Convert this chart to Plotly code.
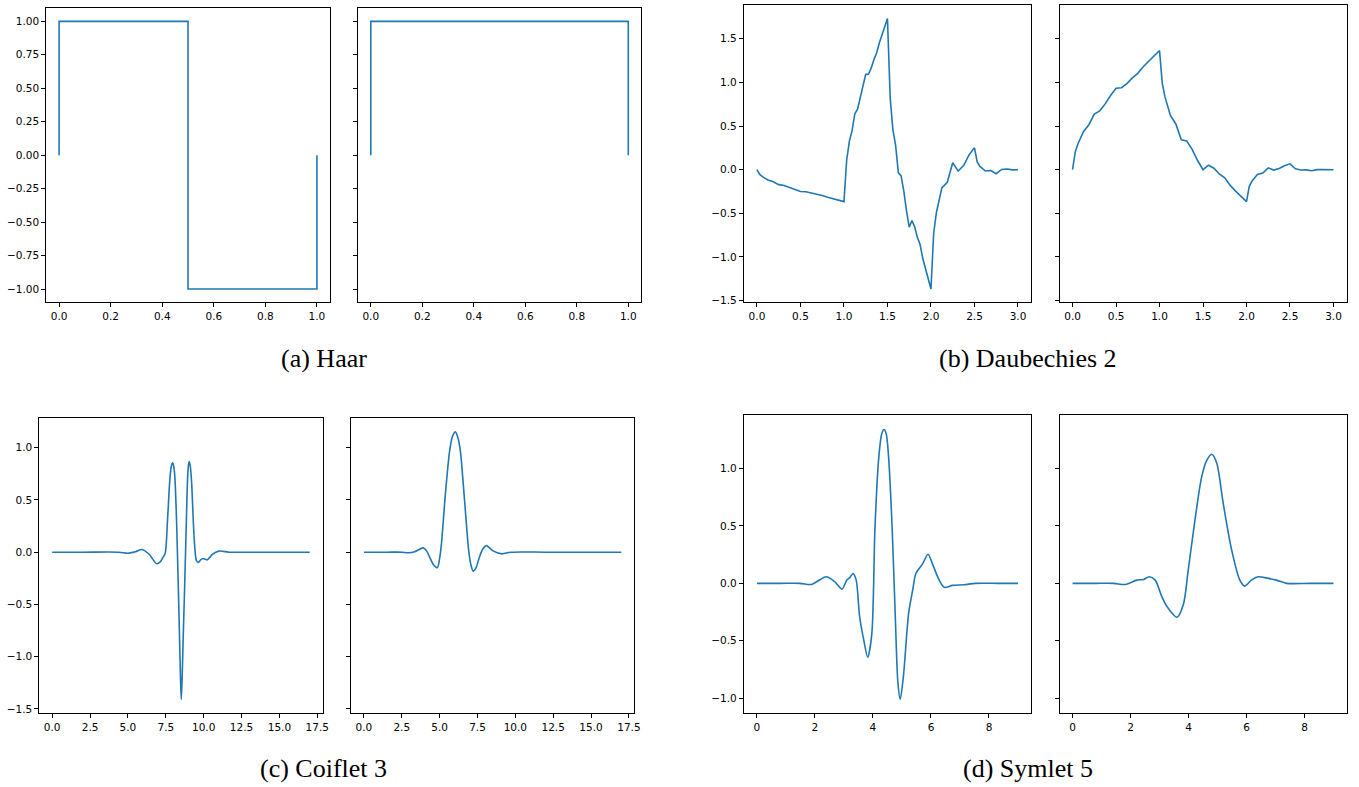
import plotly.graph_objects as go

# ---------------- data ----------------
haar_psi_x = [0, 0, 0.5, 0.5, 1, 1]
haar_psi_y = [0, 1, 1, -1, -1, 0]
haar_phi_x = [0, 0, 1, 1]
haar_phi_y = [0, 1, 1, 0]

db2_psi_x = [0, 0.015625, 0.03125, 0.0625, 0.125, 0.1875, 0.25, 0.3125, 0.375, 0.4375, 0.5, 0.5625,
             0.625, 0.6875, 0.75, 0.8125, 0.875, 0.9375, 1.0, 1.03125, 1.0625, 1.09375, 1.125, 1.15625,
             1.1875, 1.21875, 1.25, 1.28125, 1.3125, 1.34375, 1.375, 1.40625, 1.4375, 1.46875, 1.5,
             1.53125, 1.5625, 1.59375, 1.625, 1.65625, 1.6875, 1.71875, 1.75, 1.78125, 1.8125, 1.84375,
             1.875, 1.90625, 1.9375, 1.96875, 2.0, 2.03125, 2.0625, 2.125, 2.1875, 2.25, 2.3125, 2.375,
             2.4375, 2.5, 2.53125, 2.5625, 2.625, 2.6875, 2.75, 2.8125, 2.875, 2.9375, 3.0]
db2_psi_y = [0, -0.037, -0.054, -0.080, -0.117, -0.138, -0.171, -0.181, -0.202, -0.228, -0.250, -0.252,
             -0.265, -0.282, -0.296, -0.316, -0.333, -0.349, -0.366, 0.111, 0.328, 0.450, 0.641, 0.693,
             0.816, 0.964, 1.092, 1.093, 1.163, 1.259, 1.337, 1.452, 1.549, 1.639, 1.732,
             0.825, 0.455, 0.280, -0.037, -0.069, -0.243, -0.471, -0.659, -0.584, -0.653, -0.775,
             -0.858, -1.018, -1.141, -1.249, -1.366, -0.725, -0.490, -0.209, -0.144, 0.079, -0.016, 0.048,
             0.170, 0.250, 0.090, 0.038, -0.015, -0.009, -0.046, 0.003, 0.008, -0.002, 0]

db2_phi_x = [0, 0.015625, 0.03125, 0.0625, 0.125, 0.1875, 0.25, 0.3125, 0.375, 0.4375, 0.5, 0.5625,
             0.625, 0.6875, 0.75, 0.8125, 0.875, 0.9375, 1.0, 1.03125, 1.0625, 1.125, 1.1875, 1.25,
             1.3125, 1.375, 1.4375, 1.5, 1.5625, 1.625, 1.6875, 1.75, 1.8125, 1.875, 1.9375, 2.0,
             2.03125, 2.0625, 2.125, 2.1875, 2.25, 2.3125, 2.375, 2.4375, 2.5, 2.5625, 2.625, 2.6875,
             2.75, 2.8125, 2.875, 2.9375, 3.0]
db2_phi_y = [0, 0.139, 0.203, 0.297, 0.435, 0.515, 0.637, 0.674, 0.754, 0.850, 0.933, 0.939,
             0.987, 1.051, 1.104, 1.179, 1.244, 1.304, 1.366, 0.991, 0.834, 0.621, 0.524, 0.342,
             0.330, 0.233, 0.105, 0.0, 0.051, 0.017, -0.049, -0.092, -0.180, -0.246, -0.303, -0.366,
             -0.194, -0.131, -0.056, -0.039, 0.021, -0.004, 0.013, 0.046, 0.067, 0.010, -0.004, -0.002,
             -0.012, 0.001, 0.002, -0.0004, 0]

coif3_psi_x = [0, 2.0, 4.4, 5.0, 5.5, 5.94, 6.4, 6.9, 7.15, 7.29, 7.45, 7.61, 7.76, 7.86, 7.95, 8.03,
               8.10, 8.2, 8.27, 8.38, 8.46, 8.52, 8.58, 8.65, 8.74, 8.83, 8.94, 9.0, 9.05, 9.12, 9.2,
               9.37, 9.52, 9.65, 9.8, 9.95, 10.1, 10.24, 10.4, 10.57, 11.0, 11.66, 12.5, 15.0, 17.0]
coif3_psi_y = [0, 0, 0, -0.01, 0.005, 0.026, -0.02, -0.111, -0.09, -0.054, -0.016, 0.30, 0.68, 0.82,
               0.857, 0.82, 0.714, 0.35, -0.016, -0.65, -1.15, -1.41, -1.2, -0.81, -0.35, 0.143, 0.714,
               0.84, 0.867, 0.82, 0.68, 0.143, -0.079, -0.098, -0.073, -0.06, -0.067, -0.073, -0.05,
               -0.022, 0.01, 0.0, 0.0, 0, 0]

coif3_phi_x = [0, 1.5, 2.5, 2.93, 3.36, 3.65, 3.91, 4.15, 4.34, 4.6, 4.85, 5.0, 5.12, 5.38, 5.66, 5.85,
               6.04, 6.2, 6.37, 6.65, 6.92, 7.08, 7.22, 7.4, 7.63, 7.85, 8.1, 8.3, 8.56, 9.1, 9.7, 12.0,
               14.5, 17.0]
coif3_phi_y = [0, 0, 0, -0.005, 0.005, 0.025, 0.041, 0.01, -0.048, -0.12, -0.149, -0.06, 0.079, 0.556,
               0.968, 1.11, 1.152, 1.10, 0.968, 0.49, 0.016, -0.13, -0.181, -0.15, -0.048, 0.03, 0.063,
               0.04, 0.01, -0.016, 0.0, 0.0, 0, 0]

sym5_psi_x = [0, 0.8, 1.48, 1.88, 2.1, 2.39, 2.68, 2.93, 3.1, 3.2, 3.31, 3.42, 3.54, 3.68, 3.82, 3.96,
              4.07, 4.2, 4.3, 4.38, 4.46, 4.54, 4.66, 4.77, 4.86, 4.94, 5.05, 5.23, 5.37, 5.48, 5.71,
              5.9, 6.05, 6.28, 6.46, 6.74, 7.14, 7.54, 8.3, 9.0]
sym5_psi_y = [0, 0, 0, -0.01, 0.02, 0.057, 0.014, -0.05, 0.03, 0.05, 0.086, 0.03, -0.289, -0.49,
              -0.644, -0.44, 0.49, 1.096, 1.30, 1.341, 1.30, 1.096, 0.49, -0.289, -0.866, -1.01, -0.81,
              -0.26, -0.058, 0.086, 0.17, 0.253, 0.17, 0.03, -0.035, -0.018, -0.012, 0, 0, 0]

sym5_phi_x = [0, 0.8, 1.42, 1.82, 2.22, 2.45, 2.64, 2.85, 3.08, 3.25, 3.6, 3.82, 3.99, 4.22, 4.45,
              4.62, 4.8, 4.97, 5.2, 5.49, 5.77, 5.94, 6.17, 6.4, 6.75, 7.03, 7.38, 8.2, 9.0]
sym5_phi_y = [0, 0, 0, -0.01, 0.028, 0.034, 0.057, 0.028, -0.116, -0.2, -0.295, -0.186, 0.115, 0.548,
              0.923, 1.067, 1.125, 1.05, 0.692, 0.288, 0.028, -0.024, 0.028, 0.057, 0.043, 0.028, 0,
              0, 0]

captions = ["(a) Haar", "(b) Daubechies 2", "(c) Coiflet 3", "(d) Symlet 5"]

# ---------------- figure ----------------
W, H = 1359, 787
LINE = "#1f77b4"

def px_x(a, b):
    return [a / W, b / W]

def px_y(top, bottom):
    return [1 - bottom / H, 1 - top / H]

# (series_x, series_y, shape, xdomain, ydomain, xrange, yrange, xdtick, xfmt, ydtick, yfmt, showylabels)
panels = [
    (haar_psi_x, haar_psi_y, "linear", px_x(46.4, 331.3), px_y(8, 304), [-0.05, 1.05], [-1.1, 1.1], 0.2, ".1f", 0.25, ".2f", True),
    (haar_phi_x, haar_phi_y, "linear", px_x(359.5, 644), px_y(8, 304), [-0.05, 1.05], [-1.1, 1.1], 0.2, ".1f", 0.25, ".2f", False),
    (db2_psi_x, db2_psi_y, "linear", px_x(747.2, 1035.6), px_y(5, 304), [-0.15, 3.15], [-1.5209, 1.8869], 0.5, ".1f", 0.5, ".1f", True),
    (db2_phi_x, db2_phi_y, "linear", px_x(1064.2, 1352.5), px_y(5, 304), [-0.15, 3.15], [-1.5209, 1.8869], 0.5, ".1f", 0.5, ".1f", False),
    (coif3_psi_x, coif3_psi_y, "spline", px_x(39.5, 324), px_y(420, 717), [-0.85, 17.85], [-1.543, 1.286], 2.5, ".1f", 0.5, ".1f", True),
    (coif3_phi_x, coif3_phi_y, "spline", px_x(352.6, 637), px_y(420, 717), [-0.85, 17.85], [-1.543, 1.286], 2.5, ".1f", 0.5, ".1f", False),
    (sym5_psi_x, sym5_psi_y, "spline", px_x(747.2, 1035.6), px_y(417, 717), [-0.45, 9.45], [-1.133, 1.468], 2, "d", 0.5, ".1f", True),
    (sym5_phi_x, sym5_phi_y, "spline", px_x(1064.2, 1352.5), px_y(417, 717), [-0.45, 9.45], [-1.133, 1.468], 2, "d", 0.5, ".1f", False),
]

fig = go.Figure()
layout = dict(
    width=W, height=H,
    margin=dict(l=0, r=0, t=0, b=0),
    paper_bgcolor="white", plot_bgcolor="white",
    showlegend=False,
    font=dict(family="DejaVu Sans", size=10.5, color="black"),
)

for i, (xs, ys, shape, xd, yd, xr, yr, xdt, xf, ydt, yf, showy) in enumerate(panels, start=1):
    suffix = "" if i == 1 else str(i)
    line = dict(color=LINE, width=1.6)
    if shape == "spline":
        line["shape"] = "spline"
        line["smoothing"] = 0.8
    fig.add_trace(go.Scatter(x=xs, y=ys, mode="lines", line=line,
                             xaxis="x" + suffix, yaxis="y" + suffix, hoverinfo="skip"))
    common = dict(showline=True, linecolor="black", linewidth=1, mirror=True,
                  ticks="outside", ticklen=4, tickwidth=1, tickcolor="black",
                  showgrid=False, zeroline=False,
                  tickfont=dict(family="DejaVu Sans", size=10.5, color="black"))
    layout["xaxis" + suffix] = dict(domain=xd, range=xr, anchor="y" + suffix,
                                    tick0=0, dtick=xdt, tickformat=xf, **common)
    layout["yaxis" + suffix] = dict(domain=yd, range=yr, anchor="x" + suffix,
                                    tick0=0, dtick=ydt, tickformat=yf,
                                    showticklabels=showy, **common)

cap_pos = [(325, 360), (1033, 360), (325, 772), (1033, 772)]
layout["annotations"] = [
    dict(text=t, x=cx / W, y=1 - cy / H, xref="paper", yref="paper",
         xanchor="center", yanchor="middle", showarrow=False,
         font=dict(family="Liberation Serif", size=26, color="black"))
    for t, (cx, cy) in zip(captions, cap_pos)
]

fig.update_layout(**layout)
fig.write_html("out.html")
